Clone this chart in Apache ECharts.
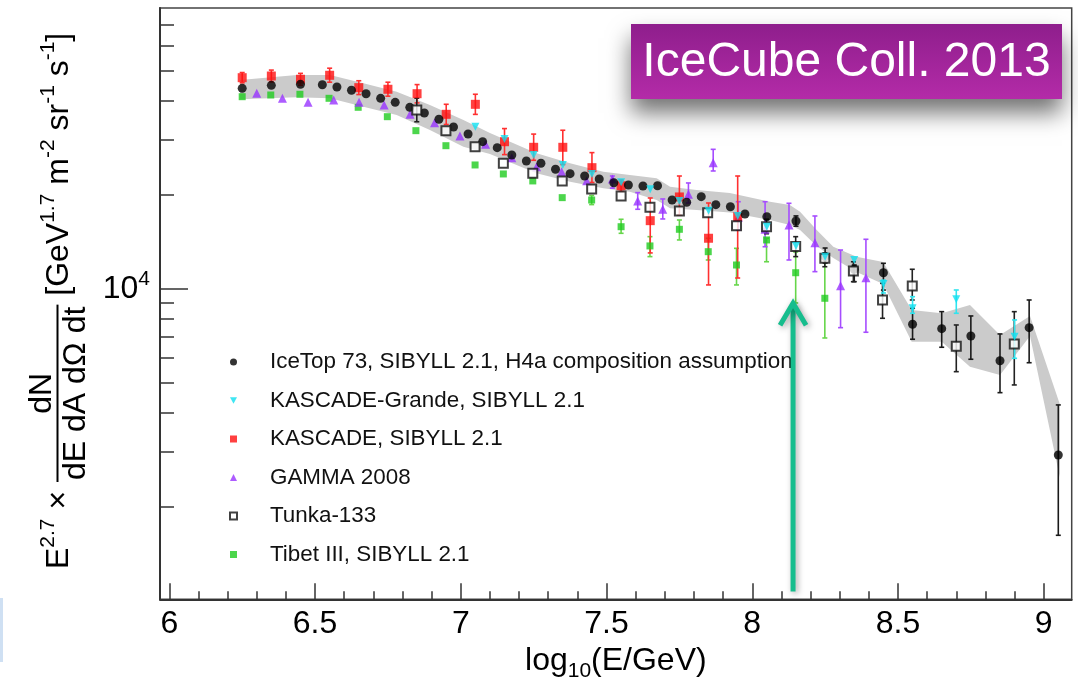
<!DOCTYPE html>
<html lang="en">
<head>
<meta charset="UTF-8">
<title>IceTop 73 all-particle spectrum</title>
<style>
    html, body { margin: 0; padding: 0; background: #fff; }
    #main { width: 1078px; height: 692px; }
</style>
</head>
<body>
<div id="main"></div>
<script src="https://cdn.jsdelivr.net/npm/echarts@6.0.0/dist/echarts.min.js"></script>
<script type="text/javascript">
    var FONT = '"Liberation Sans", Arial, Helvetica, sans-serif';

    // axis ticks
    var xMajor = [6, 6.5, 7, 7.5, 8, 8.5, 9];
    var xMinor = [6.1, 6.2, 6.3, 6.4, 6.6, 6.7, 6.8, 6.9, 7.1, 7.2, 7.3, 7.4, 7.6, 7.7, 7.8, 7.9,
        8.1, 8.2, 8.3, 8.4, 8.6, 8.7, 8.8, 8.9, 9.1];
    var yMajor = [10000];
    var yMinor = [2000, 3000, 4000, 5000, 6000, 7000, 8000, 9000, 20000, 30000, 40000, 50000, 60000, 70000];

    // IceTop 73 (black dots) + systematic band
    var iceX = [6.25, 6.35, 6.45, 6.525, 6.575, 6.625, 6.675, 6.725, 6.775, 6.825, 6.875, 6.925, 6.975,
        7.025, 7.075, 7.125, 7.175, 7.225, 7.275, 7.325, 7.375, 7.425, 7.475, 7.525, 7.575, 7.625, 7.675,
        7.725, 7.775, 7.825, 7.875, 7.925, 7.975, 8.05, 8.15, 8.25, 8.35, 8.45, 8.55, 8.65, 8.75, 8.85, 8.95, 9.05];
    var iceY = [43870, 44860, 45190, 45060, 44310, 43240, 42170, 40760, 39570, 38140, 36570, 34910, 32980,
        31320, 29600, 28310, 26820, 25660, 25230, 24140, 23370, 22980, 22470, 21860, 21500, 21340, 21380,
        19240, 18920, 19720, 18590, 18310, 17350, 17010, 16480, 12660, 11540, 11250, 7690, 7444, 7051, 5876, 7499, 2930];
    var iceErrX = [8.15, 8.25, 8.35, 8.45, 8.55, 8.65, 8.75, 8.85, 8.95, 9.05];
    var iceErrLo = [15860, 12090, 10530, 9900, 6885, 6490, 5940, 4642, 5790, 1620];
    var iceErrHi = [17110, 13500, 11910, 12060, 8652, 8440, 8176, 7160, 9200, 4240];

    var bandX = [6.243, 6.437, 6.551, 6.666, 6.78, 6.894, 7.009, 7.1, 7.26, 7.375, 7.489, 7.58, 7.672, 7.718,
        7.809, 7.923, 8.061, 8.129, 8.164, 8.221, 8.278, 8.358, 8.449, 8.547, 8.65, 8.747, 8.85, 8.953, 9.055];
    var bandHi = [46660, 48410, 48410, 45530, 42800, 38800, 34730, 31560, 27160, 25230, 23710, 23140, 22590, 21230,
        20720, 20260, 19000, 18550, 17650, 15420, 13630, 12660, 12180, 8546, 8341, 8867, 7107, 8176, 4270];
    var bandLo = [40460, 41070, 40760, 38310, 36030, 32270, 28520, 27020, 23440, 22030, 20980, 20460, 19240, 18100,
        17870, 17550, 16600, 16000, 15420, 13700, 12540, 11310, 10350, 6762, 6762, 5623, 5290, 7055, 2491];

    // KASCADE-Grande (cyan)
    var kgX = [7.05, 7.15, 7.25, 7.35, 7.45, 7.55, 7.65, 7.75, 7.85, 7.95, 8.05, 8.15, 8.25, 8.35, 8.45, 8.55, 8.7, 8.9];
    var kgY = [33050, 30190, 26820, 24920, 23320, 21930, 20830, 19100, 17780, 17100, 15800, 13710, 12660, 12360,
        10350, 8654, 9250, 7015];
    var kgErrX = [8.45, 8.55, 8.7, 8.9];
    var kgErrLo = [9688, 8340, 8340, 5981];
    var kgErrHi = [10650, 9427, 9904, 7939];

    // KASCADE (red)
    var kX = [6.25, 6.35, 6.45, 6.55, 6.65, 6.75, 6.85, 6.95, 7.05, 7.15, 7.25, 7.35, 7.45, 7.55, 7.65, 7.75, 7.85, 7.95];
    var kY = [47460, 48050, 46910, 48310, 44090, 43570, 42170, 36220, 38990, 29590, 28390, 28390, 24430, 21380,
        16520, 19680, 14510, 17010];
    var kLo = [45700, 46000, 44900, 45900, 41900, 41400, 39400, 33600, 36200, 26900, 25800, 25000, 21900, 20500,
        13020, 17230, 10280, 10820];
    var kHi = [49300, 50200, 49000, 50900, 46400, 45900, 45100, 39000, 42000, 32600, 31300, 32200, 27300, 22300,
        19530, 22970, 18820, 22970];

    // GAMMA 2008 (purple)
    var gX = [6.30, 6.388, 6.476, 6.564, 6.651, 6.737, 6.826, 6.91, 6.997, 7.085, 7.175, 7.26, 7.346, 7.432, 7.52,
        7.607, 7.693, 7.781, 7.866, 7.952, 8.044, 8.126, 8.215, 8.303, 8.39];
    var gY = [42300, 40760, 39570, 40250, 39570, 38790, 36220, 34040, 30860, 29030, 26300, 24600, 23710, 22200, 22470,
        19100, 17970, 20070, 25340, 16930, 15500, 16000, 14040, 10220, 10850];
    var gErrX = [7.52, 7.607, 7.693, 7.781, 7.866, 7.952, 8.044, 8.126, 8.215, 8.303, 8.39];
    var gErrLo = [21000, 17970, 16730, 18820, 23840, 15420, 13630, 12360, 11340, 7500, 7250];
    var gErrHi = [22970, 20320, 19390, 21820, 27970, 19000, 19000, 18780, 17100, 13300, 14400];

    // Tunka-133 (open squares)
    var tX = [6.849, 6.949, 7.049, 7.146, 7.247, 7.348, 7.449, 7.55, 7.649, 7.75, 7.847, 7.946, 8.049, 8.149,
        8.249, 8.347, 8.447, 8.549, 8.7, 8.899];
    var tY = [37400, 32100, 28520, 25230, 23440, 22150, 20870, 19830, 18240, 17740, 17520, 15920, 15800, 13640,
        12510, 11400, 9200, 10200, 6536, 6650];
    var tErrX = [6.849, 8.049, 8.149, 8.249, 8.347, 8.447, 8.549, 8.7, 8.899];
    var tErrLo = [34280, 15000, 12670, 11760, 10530, 8037, 9200, 5420, 4914];
    var tErrHi = [40800, 16700, 14680, 13020, 12200, 10400, 11540, 7650, 8440];

    // Tibet III (green)
    var tbX = [6.25, 6.348, 6.448, 6.548, 6.648, 6.748, 6.846, 6.949, 7.049, 7.146, 7.247, 7.348, 7.449, 7.55,
        7.649, 7.75, 7.849, 7.946, 8.049, 8.149, 8.249];
    var tbY = [41250, 41770, 41990, 40760, 38140, 35590, 32100, 28730, 24920, 23320, 22150, 19580, 19240, 15800,
        13710, 15500, 13140, 11910, 14330, 11250, 9316];
    var tbErrX = [7.449, 7.55, 7.649, 7.75, 7.849, 7.946, 8.049, 8.149, 8.249];
    var tbErrLo = [18600, 15050, 12670, 14330, 12360, 10280, 12200, 9000, 6950];
    var tbErrHi = [19900, 16690, 14680, 16600, 14510, 13470, 14510, 13110, 12540];

    // annotation arrow at log10(E) = 8.14
    var arrowX = 8.14, arrowFrom = 1069, arrowTo = 8980;

    var names = [
        'IceTop 73, SIBYLL 2.1, H4a composition assumption',
        'KASCADE-Grande, SIBYLL 2.1',
        'KASCADE, SIBYLL 2.1',
        'GAMMA 2008',
        'Tunka-133',
        'Tibet III, SIBYLL 2.1'
    ];
    var downTriangle = 'path://M0,0L10,0L5,9Z';

    function zip(a, b) {
        return a.map(function (v, i) { return [v, b[i]]; });
    }
    function zip3(a, b, c) {
        return a.map(function (v, i) { return [v, b[i], c[i]]; });
    }

    function errSeries(rows, color, z) {
        return {
            type: 'custom', z: z, silent: true, data: rows,
            encode: {x: 0, y: [1, 2]},
            renderItem: function (params, api) {
                var lo = api.coord([api.value(0), api.value(1)]);
                var hi = api.coord([api.value(0), api.value(2)]);
                var c = 2.5, st = {stroke: color, lineWidth: 1.6};
                return {
                    type: 'group', children: [
                        {type: 'line', shape: {x1: lo[0], y1: lo[1], x2: hi[0], y2: hi[1]}, style: st},
                        {type: 'line', shape: {x1: lo[0] - c, y1: lo[1], x2: lo[0] + c, y2: lo[1]}, style: st},
                        {type: 'line', shape: {x1: hi[0] - c, y1: hi[1], x2: hi[0] + c, y2: hi[1]}, style: st}
                    ]
                };
            }
        };
    }

    // rotated y title, laid out along its baseline
    var mctx = document.createElement('canvas').getContext('2d');
    function tw(s, size) {
        mctx.font = size + 'px ' + FONT;
        return mctx.measureText(s).width;
    }
    function piece(s, size, lx, base) {
        return {
            type: 'text', x: lx, y: base - 0.32 * size,
            style: {text: s, font: size + 'px ' + FONT, fill: '#000', align: 'left', verticalAlign: 'middle'}
        };
    }
    var yTitle = [];
    var pos = 0;
    function add(s, size, base) {
        yTitle.push(piece(s, size, pos, base));
        pos += tw(s, size);
    }
    add('E', 32, 0);
    add('2.7', 21, -14);
    add(' \u00d7 ', 32, 0);
    var numTxt = 'dN', denTxt = 'dE dA d\u03a9 dt';
    var fw = Math.max(tw(numTxt, 32), tw(denTxt, 32)) + 4;
    yTitle.push({type: 'line', shape: {x1: pos, y1: -11.5, x2: pos + fw, y2: -11.5}, style: {stroke: '#000', lineWidth: 2}});
    yTitle.push(piece(numTxt, 32, pos + (fw - tw(numTxt, 32)) / 2, -17));
    yTitle.push(piece(denTxt, 32, pos + (fw - tw(denTxt, 32)) / 2, 17));
    pos += fw;
    add(' [GeV', 32, 0);
    add('1.7', 21, -14);
    add(' m', 32, 0);
    add('-2', 21, -14);
    add(' sr', 32, 0);
    add('-1', 21, -14);
    add(' s', 32, 0);
    add('-1', 21, -14);
    add(']', 32, 0);

    var myChart = echarts.init(document.getElementById('main'), null, {renderer: 'canvas'});
    myChart.setOption({
        animation: false,
        backgroundColor: '#fff',
        textStyle: {fontFamily: FONT},
        grid: {left: 160, right: 6.3, top: 8, bottom: 92.7, show: true, borderColor: '#444', borderWidth: 1.5},
        legend: {
            orient: 'vertical', left: 224, top: 345, itemWidth: 7, itemHeight: 7, itemGap: 14.5,
            selectedMode: false, symbolKeepAspect: true,
            data: names.map(function (n, i) {
                return i === 1 ? {name: n, icon: downTriangle} : {name: n};
            }),
            textStyle: {fontSize: 22.4, color: '#111', fontFamily: FONT, lineHeight: 24, padding: [0, 0, 0, 28]}
        },
        xAxis: [{
            type: 'value', min: 5.968, max: 9.096, position: 'bottom',
            axisLine: {onZero: false, lineStyle: {color: '#333', width: 2}},
            axisTick: {inside: true, length: 16, customValues: xMajor, lineStyle: {color: '#333', width: 1.5}},
            axisLabel: {customValues: xMajor, fontSize: 32, color: '#000', margin: 9, fontFamily: FONT},
            splitLine: {show: false},
            name: '{a|log}{s|10}{a|(E/GeV)}', nameLocation: 'middle', nameGap: 42,
            nameTextStyle: {
                rich: {
                    a: {fontSize: 32, lineHeight: 40, color: '#000', fontFamily: FONT},
                    s: {fontSize: 21, lineHeight: 21, color: '#000', fontFamily: FONT, verticalAlign: 'bottom'}
                }
            }
        }, {
            type: 'value', min: 5.968, max: 9.096, position: 'bottom',
            axisLine: {show: false},
            axisTick: {inside: true, length: 8, customValues: xMinor, lineStyle: {color: '#333', width: 1.5}},
            axisLabel: {show: false},
            splitLine: {show: false}
        }],
        yAxis: [{
            type: 'log', logBase: 10, min: 1010, max: 79380, position: 'left',
            axisLine: {show: true, onZero: false, lineStyle: {color: '#333', width: 2}},
            axisTick: {show: true, inside: true, length: 14, customValues: yMinor, lineStyle: {color: '#333', width: 1.5}},
            axisLabel: {show: false},
            splitLine: {show: false}
        }, {
            type: 'log', logBase: 10, min: 1010, max: 79380, position: 'left',
            axisLine: {show: false},
            axisTick: {show: true, inside: true, length: 28, customValues: yMajor, lineStyle: {color: '#333', width: 1.5}},
            axisLabel: {
                customValues: yMajor, margin: 10,
                formatter: function () { return '{b|10}{s|4}'; },
                rich: {
                    b: {fontSize: 32, lineHeight: 40, color: '#000', fontFamily: FONT},
                    s: {fontSize: 21, lineHeight: 21, color: '#000', fontFamily: FONT, verticalAlign: 'top'}
                }
            },
            splitLine: {show: false}
        }],
        graphic: [
            {type: 'group', x: 69, y: 569, rotation: Math.PI / 2, children: yTitle},
            {
                type: 'rect', z: 100, shape: {x: 631, y: 24, width: 431, height: 75},
                style: {
                    fill: {type: 'linear', x: 0, y: 0, x2: 0, y2: 1,
                        colorStops: [{offset: 0, color: '#8E1E8C'}, {offset: 1, color: '#B42BA8'}]},
                    shadowBlur: 22, shadowOffsetY: 14, shadowColor: 'rgba(0,0,0,0.55)'
                }
            },
            {
                type: 'text', z: 101, x: 846.5, y: 62.5,
                style: {text: 'IceCube Coll. 2013', font: '48px ' + FONT, fill: '#fff', align: 'center', verticalAlign: 'middle'}
            },
            {type: 'rect', shape: {x: 0, y: 598, width: 3, height: 64}, style: {fill: '#cfe0f3'}}
        ],
        series: [
            {
                type: 'custom', z: 1, silent: true,
                data: zip3(bandX, bandLo, bandHi), encode: {x: 0, y: [1, 2]},
                renderItem: function (params, api) {
                    if (params.dataIndex !== 0) return null;
                    var pts = [], i;
                    for (i = 0; i < bandX.length; i++) pts.push(api.coord([bandX[i], bandHi[i]]));
                    for (i = bandX.length - 1; i >= 0; i--) pts.push(api.coord([bandX[i], bandLo[i]]));
                    return {type: 'polygon', shape: {points: pts}, style: {fill: '#CBCBCB'}};
                }
            },
            errSeries(zip3(tbErrX, tbErrLo, tbErrHi), '#66D64A', 2),
            errSeries(zip3(gErrX, gErrLo, gErrHi), '#A64DFF', 2),
            errSeries(zip3(kX, kLo, kHi), '#FF3030', 2),
            errSeries(zip3(iceErrX, iceErrLo, iceErrHi), '#1a1a1a', 3),
            errSeries(zip3(tErrX, tErrLo, tErrHi), '#222', 3),
            errSeries(zip3(kgErrX, kgErrLo, kgErrHi), '#30E4EE', 4),
            {
                type: 'scatter', name: names[5], z: 3, data: zip(tbX, tbY),
                symbol: 'rect', symbolSize: 7, itemStyle: {color: '#1FCC1F'}
            },
            {
                type: 'scatter', name: names[3], z: 3, data: zip(gX, gY),
                symbol: 'triangle', symbolSize: 9, itemStyle: {color: '#9933FF'}
            },
            {
                type: 'scatter', name: names[2], z: 3, data: zip(kX, kY),
                symbol: 'rect', symbolSize: 9, itemStyle: {color: '#FF1010'}
            },
            {
                type: 'scatter', name: names[0], z: 4, data: zip(iceX, iceY),
                symbol: 'circle', symbolSize: 9, itemStyle: {color: '#000'}
            },
            {
                type: 'scatter', name: names[4], z: 5, data: zip(tX, tY),
                symbol: 'rect', symbolSize: 9, itemStyle: {color: '#fff', borderColor: '#111', borderWidth: 2}
            },
            {
                type: 'scatter', name: names[1], z: 6, data: zip(kgX, kgY),
                symbol: 'triangle', symbolRotate: 180, symbolSize: 8, itemStyle: {color: '#10E0F0'}
            },
            {
                type: 'custom', z: 20, silent: true,
                data: [[arrowX, arrowFrom, arrowTo]], encode: {x: 0, y: [1, 2]},
                renderItem: function (params, api) {
                    var b = api.coord([api.value(0), api.value(1)]);
                    var t = api.coord([api.value(0), api.value(2)]);
                    var st = {
                        stroke: '#16BD8D', fill: null, lineWidth: 5, lineJoin: 'miter',
                        shadowBlur: 6, shadowColor: 'rgba(0,0,0,0.35)', shadowOffsetX: 2, shadowOffsetY: 2
                    };
                    return {
                        type: 'group', children: [
                            {type: 'line', shape: {x1: b[0], y1: b[1], x2: t[0], y2: t[1] + 2}, style: st},
                            {type: 'polyline', shape: {points: [[t[0] - 13, t[1] + 22], [t[0], t[1]], [t[0] + 13, t[1] + 22]]}, style: st}
                        ]
                    };
                }
            }
        ]
    });
</script>
</body>
</html>
